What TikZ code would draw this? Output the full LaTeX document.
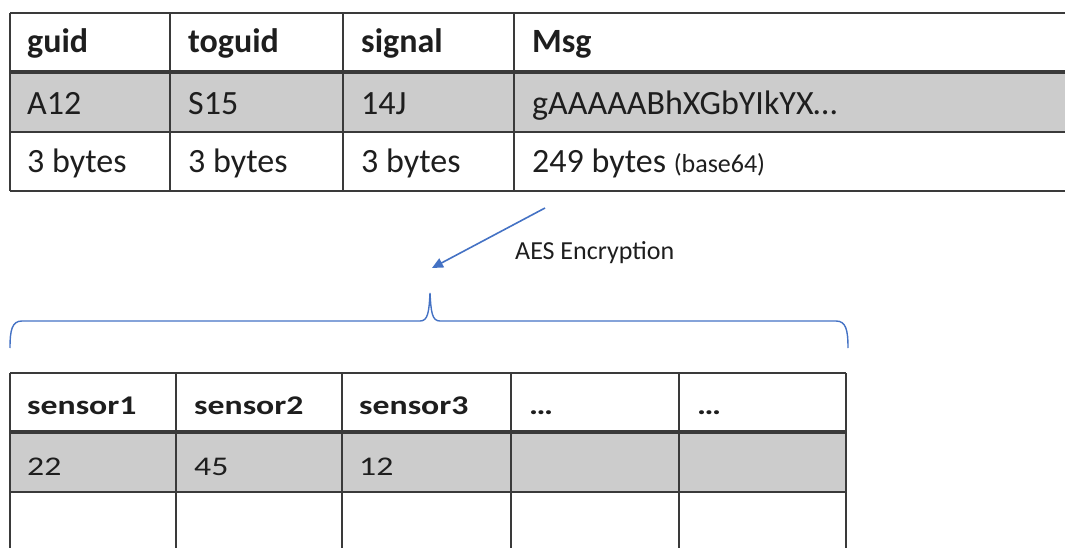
\documentclass[tikz,border=0pt]{standalone}
\usepackage{fontspec}
\setmainfont{Carlito}
\newfontfamily\widefont[FakeStretch=1.25]{Carlito}
\usetikzlibrary{arrows.meta}
\definecolor{grid}{HTML}{3A3A3A}
\definecolor{rowgray}{HTML}{CCCCCC}
\definecolor{office}{HTML}{4472C4}
\definecolor{ink}{HTML}{1E1E1E}
\tikzset{
  cell/.style={anchor=base west, inner sep=0pt, text=ink, font=\fontsize{34}{40}\selectfont},
  headcell/.style={cell, font=\fontsize{34}{40}\selectfont\bfseries},
  lowcell/.style={anchor=base west, inner sep=0pt, text=ink, font=\widefont\fontsize{27}{32}\selectfont},
  lowhead/.style={lowcell, font=\widefont\fontsize{27}{32}\selectfont\bfseries},
  rule/.style={draw=grid, line width=2pt},
  headrule/.style={draw=grid, line width=4pt},
  accent/.style={draw=office, line width=1.6pt},
}
\begin{document}
\begin{tikzpicture}[x=1pt,y=-1pt]
\useasboundingbox (0,0) rectangle (1065,548);
\clip (0,0) rectangle (1065,548);

% ---- message frame table ----
\fill[rowgray] (10,72) rectangle (1065,132);
\draw[rule] (10,13) -- (1065,13);
\draw[rule] (10,132) -- (1065,132);
\draw[rule] (10,191) -- (1065,191);
\draw[headrule] (10,72) -- (1065,72);
\foreach \x in {10,170,343,514} \draw[rule] (\x,13) -- (\x,191);

\node[headcell] (hguid)   at (27,53)  {guid};
\node[headcell] (htoguid) at (188,53) {toguid};
\node[headcell] (hsignal) at (361,53) {signal};
\node[headcell] (hmsg)    at (532,53) {Msg};

\node[cell] (vguid)   at (27,115)  {A12};
\node[cell] (vtoguid) at (188,115) {S15};
\node[cell] (vsignal) at (361,115) {14J};
\node[cell] (vmsg)    at (532,115) {gAAAAABhXGbYIkYX…};

\node[cell] (sguid)   at (27,173)  {3 bytes};
\node[cell] (stoguid) at (188,173) {3 bytes};
\node[cell] (ssignal) at (361,173) {3 bytes};
\node[cell] (smsg)    at (532,173) {249 bytes {\fontsize{26}{30}\selectfont(base64)}};

% ---- encryption step ----
\coordinate (encfrom) at (545,208);
\coordinate (encto)   at (432,268);
\draw[accent, -{Triangle[length=11pt,width=10pt]}] (encfrom) -- (encto);
\node[anchor=base west, inner sep=0pt, text=ink, font=\fontsize{26}{30}\selectfont] (aes) at (515,259) {AES Encryption};

% curly brace over the sensor table
\draw[accent, line width=1.4pt]
  (10,348) .. controls (10,330) and (12,321) .. (22,321)
  -- (420,321) .. controls (428,321) and (429,312) .. (430,293)
  .. controls (431,312) and (432,321) .. (440,321)
  -- (836,321) .. controls (846,321) and (848,330) .. (848,348);

% ---- sensor payload table ----
\fill[rowgray] (10,432) rectangle (846,492);
\draw[rule] (10,373) -- (846,373);
\draw[rule] (10,492) -- (846,492);
\draw[headrule] (10,432) -- (846,432);
\foreach \x in {10,176,342,511,679,846} \draw[rule] (\x,373) -- (\x,550);

\node[lowhead] (hs1) at (27,414)  {sensor1};
\node[lowhead] (hs2) at (194,414) {sensor2};
\node[lowhead] (hs3) at (359,414) {sensor3};
\node[lowhead] (hs4) at (529,414) {…};
\node[lowhead] (hs5) at (697,414) {…};

\node[lowcell] (vs1) at (27,475)  {22};
\node[lowcell] (vs2) at (194,475) {45};
\node[lowcell] (vs3) at (359,475) {12};
\end{tikzpicture}
\end{document}
